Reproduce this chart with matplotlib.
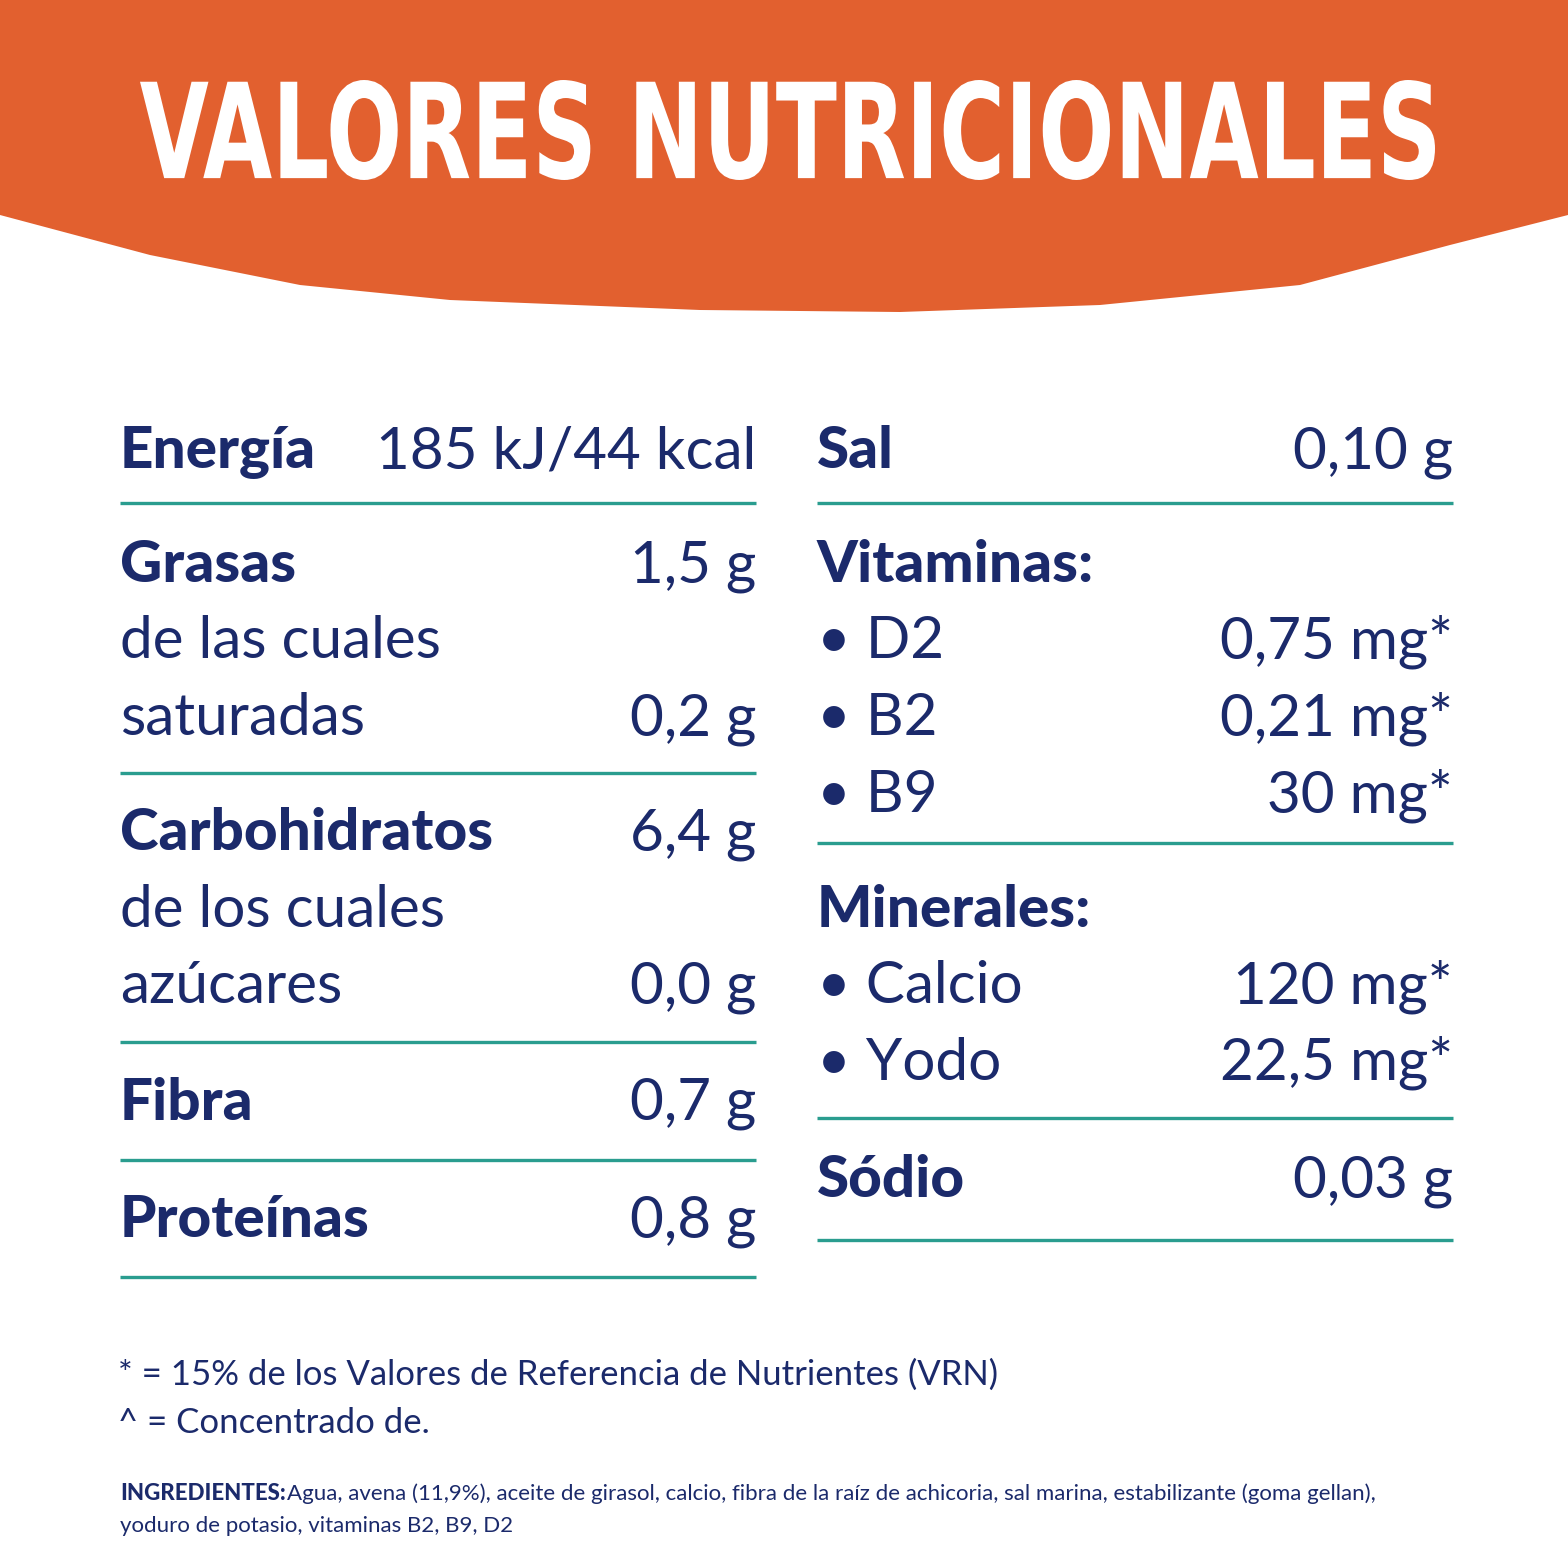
import matplotlib.pyplot as plt
from matplotlib.patches import Polygon, PathPatch
from matplotlib.textpath import TextPath
from matplotlib.font_manager import FontProperties
from matplotlib.transforms import Affine2D

NAVY = '#1b2a6b'
TEAL = '#2a9d8f'
ORANGE = '#e2602f'
FONT = 'Lato'

title = 'VALORES NUTRICIONALES'

# left column rows: (label, value, bold, baseline y)
left_labels = ['Energía', 'Grasas', 'de las cuales', 'saturadas', 'Carbohidratos',
               'de los cuales', 'azúcares', 'Fibra', 'Proteínas']
left_values = ['185 kJ/44 kcal', '1,5 g', '', '0,2 g', '6,4 g', '', '0,0 g', '0,7 g', '0,8 g']
left_bold = [True, True, False, False, True, False, False, True, True]
left_y = [468, 582, 658, 735, 850, 927, 1003, 1120, 1237]
left_rules = [503, 773, 1042, 1160, 1277]

right_labels = ['Sal', 'Vitaminas:', '• D2', '• B2', '• B9', 'Minerales:', '• Calcio', '• Yodo', 'Sódio']
right_values = ['0,10 g', '', '0,75 mg*', '0,21 mg*', '30 mg*', '', '120 mg*', '22,5 mg*', '0,03 g']
right_bold = [True, True, False, False, False, True, False, False, True]
right_y = [468, 582, 658, 735, 812, 927, 1003, 1080, 1197]
right_rules = [503, 843, 1118, 1240]

notes = ['* = 15% de los Valores de Referencia de Nutrientes (VRN)', '^ = Concentrado de.']

fig = plt.figure(figsize=(15.68, 15.68), dpi=100)
ax = fig.add_axes([0, 0, 1, 1])
ax.set_xlim(0, 1568)
ax.set_ylim(1568, 0)
ax.axis('off')

banner = [(0, 0), (1568, 0), (1568, 215), (1450, 245), (1300, 285), (1100, 305),
          (900, 312), (700, 310), (450, 300), (300, 285), (150, 255), (0, 215)]
ax.add_patch(Polygon(banner, closed=True, color=ORANGE, lw=0))

# condensed title: stretch a text path into the box of the reference
tp = TextPath((0, 0), title, size=100, prop=FontProperties(family='DejaVu Sans', weight='bold'))
ext = tp.get_extents()
sx = 1295 / ext.width
sy = 100 / ext.height
tr = Affine2D().translate(-ext.x0, -ext.y0).scale(sx, -sy).translate(140, 180)
ax.add_patch(PathPatch(tr.transform_path(tp), color='white', lw=0))

def column(x0, x1, labels, values, bold, ys, rules):
    for lab, val, b, y in zip(labels, values, bold, ys):
        ax.text(x0, y, lab, color=NAVY, fontsize=42, family=FONT,
                fontweight='black' if b else 'normal', va='baseline', ha='left')
        if val:
            ax.text(x1, y, val, color=NAVY, fontsize=42, family=FONT, va='baseline', ha='right')
    for r in rules:
        ax.plot([x0, x1], [r, r], color=TEAL, lw=2.4, solid_capstyle='butt')

column(120, 756, left_labels, left_values, left_bold, left_y, left_rules)
column(817, 1453, right_labels, right_values, right_bold, right_y, right_rules)

ax.text(118, 1385, notes[0], color=NAVY, fontsize=25, family=FONT, va='baseline')
ax.text(118, 1433, notes[1], color=NAVY, fontsize=25, family=FONT, va='baseline')

ax.text(120, 1500, 'INGREDIENTES:', color=NAVY, fontsize=16, family=FONT,
        fontweight='black', va='baseline')
ax.text(287, 1500, 'Agua, avena (11,9%), aceite de girasol, calcio, fibra de la raíz de achicoria, '
        'sal marina, estabilizante (goma gellan),', color=NAVY, fontsize=16, family=FONT, va='baseline')
ax.text(120, 1532, 'yoduro de potasio, vitaminas B2, B9, D2', color=NAVY, fontsize=16,
        family=FONT, va='baseline')

fig.savefig('out.png', dpi=100, facecolor='white')
